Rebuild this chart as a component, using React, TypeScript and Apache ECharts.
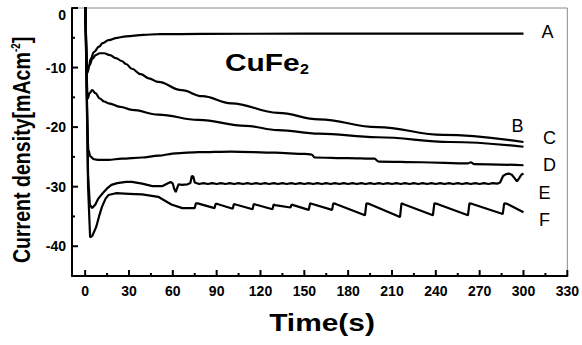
import React, { useEffect, useRef } from 'react';
import * as echarts from 'echarts';

const xMin = -9;
const xMax = 330;
const yMin = -45;
const yMax = 0;
const xMajorTicks = [0, 30, 60, 90, 120, 150, 180, 210, 240, 270, 300, 330];
const xMinorTicks = [15, 45, 75, 105, 135, 165, 195, 225, 255, 285, 315];
const yMajorTicks = [0, -10, -20, -30, -40];
const yMinorTicks = [-5, -15, -25, -35];

const seriesNames = ['A', 'B', 'C', 'D', 'E', 'F'];

const curveA: number[][] = [[0, 3], [1.4, -10.7], [2.5, -9.8], [3.9, -8.5], [6, -7.4], [9.5, -6.5], [12, -5.9], [16, -5.4], [22, -5.0], [28, -4.75], [40, -4.5], [50, -4.4], [80, -4.35], [150, -4.3], [300, -4.3]];
const curveB: number[][] = [[0, 3], [1.5, -10.9], [3, -9.6], [5, -8.5], [7.3, -7.9], [10, -7.6], [13, -7.6], [17, -7.9], [21, -8.4], [25, -8.9], [28, -9.4], [32, -10.2], [38, -11.1], [43.5, -11.8], [50, -12.4], [66, -13.8], [80, -14.8], [100, -16], [132, -17.6], [160, -18.7], [200, -20], [245, -21.3], [300, -22.5]];
const curveC: number[][] = [[0, 3], [1.8, -15.2], [3, -14.3], [4.8, -13.8], [7, -14.3], [10, -15.2], [13, -15.7], [16, -16], [24, -16.6], [32, -17.1], [50, -17.9], [77.5, -18.8], [110, -19.8], [132, -20.5], [160, -21.1], [200, -21.7], [250, -22.5], [300, -23.3]];
const curveD: number[][] = [[0, 3], [2.2, -23.8], [3.5, -24.9], [6, -25.4], [9.5, -25.5], [16, -25.5], [25, -25.3], [39, -25.1], [50, -24.8], [62, -24.4], [77.5, -24.2], [100, -24.1], [130, -24.3], [150, -24.5], [155, -24.6], [157, -25.1], [180, -25.2], [198, -25.3], [201, -25.8], [230, -25.9], [262, -26.1], [264, -25.9], [266, -26.2], [300, -26.4]];
const curveE: number[][] = [[0, 3], [2, -28], [3.2, -33], [4.8, -33.6], [7, -33], [9, -32], [12, -31.1], [15, -30.3], [18, -29.7], [22, -29.4], [28, -29.2], [32, -29.2], [39, -29.5], [46, -29.9], [53, -29.9], [56, -29.5], [58.5, -29.2], [60, -29.5], [61, -30.4], [62, -30.9], [63, -30.2], [64, -29.6], [66, -29.7], [70, -29.6], [72, -29.4], [73, -28.2], [74, -28.3], [75, -29.3],
  [78, -29.55], [81, -29.4], [84, -29.55], [87, -29.4], [90, -29.55], [93, -29.4], [96, -29.55], [99, -29.4], [102, -29.55], [105, -29.4], [108, -29.55], [111, -29.4], [114, -29.55], [117, -29.4], [120, -29.55], [123, -29.4], [126, -29.55], [129, -29.4], [132, -29.55], [135, -29.4], [138, -29.55], [141, -29.4], [144, -29.55], [147, -29.4], [150, -29.55], [153, -29.4], [156, -29.55], [159, -29.4], [162, -29.55], [165, -29.4], [168, -29.55], [171, -29.4], [174, -29.55], [177, -29.4], [180, -29.55], [183, -29.4], [186, -29.55], [189, -29.4], [192, -29.55], [195, -29.4], [198, -29.55], [201, -29.4], [204, -29.55], [207, -29.4], [210, -29.55], [213, -29.4], [216, -29.55], [219, -29.4], [222, -29.55], [225, -29.4], [228, -29.55], [231, -29.4], [234, -29.55], [237, -29.4], [240, -29.55], [243, -29.4], [246, -29.55], [249, -29.4], [252, -29.55], [255, -29.4], [258, -29.55], [261, -29.4], [264, -29.55], [267, -29.4], [270, -29.55], [273, -29.4], [276, -29.55], [279, -29.4], [282, -29.5],
  [284, -29.3], [286, -28.2], [288, -27.9], [290, -27.8], [292, -28.0], [294, -28.6], [295.5, -29.1], [297, -28.6], [298.5, -28.0], [300, -27.8]];
const curveF: number[][] = [[0, 3], [2, -30], [3.4, -38.5], [5, -38.2], [7.5, -36.8], [9.5, -35], [11.5, -33.4], [14, -32], [16, -31.4], [21, -31.1], [30, -31.2], [39, -31.3], [50, -31.7], [59, -33.0], [66.5, -33.6], [75, -33.6], [75.8, -32.8], [77, -32.8], [88.5, -33.6], [89.3, -32.9], [90.5, -32.9], [101, -33.7], [101.8, -32.9], [103, -33.0], [114.6, -33.8], [115.4, -32.9], [116.5, -33.0], [128.2, -33.8], [129, -33.0], [130, -33.1], [140.5, -33.5], [141.3, -33.0], [142.5, -33.1], [153, -33.9], [154, -32.8], [155.5, -32.9], [169, -33.9], [169.8, -32.8], [171.5, -32.9], [191.5, -34.8], [192.5, -32.8], [194.5, -32.9], [215.5, -35.1], [216.5, -32.8], [218.5, -33.0], [238, -34.8], [239, -32.8], [241, -32.9], [262, -34.8], [263, -32.8], [265, -32.9], [285.8, -34.6], [286.8, -32.8], [289, -32.9], [300, -34.3]];

const curves = [curveA, curveB, curveC, curveD, curveE, curveF];
const smoothing = [0.4, 0.4, 0.4, 0.3, 0, 0];
const labelOffsets = [[24, -2], [-6, -16], [26, -9], [26, 0], [21, 19], [21, 8]];

const FONT = '"Liberation Sans", Arial, Helvetica, sans-serif';

export default function App() {
  const ref = useRef<HTMLDivElement>(null);
  useEffect(() => {
    if (!ref.current) return;
    const chart = echarts.init(ref.current, undefined, { renderer: 'svg' });
    const tickLabel = { fontSize: 14, fontWeight: 'bold', color: '#000', fontFamily: FONT };
    const option: any = {
      animation: false,
      backgroundColor: '#fff',
      grid: { left: 72, right: 12, top: 8, bottom: 69, show: true, borderColor: '#8a8a8a', borderWidth: 1, backgroundColor: 'transparent' },
      xAxis: {
        type: 'value', min: xMin, max: xMax,
        axisLine: { show: true, onZero: false, lineStyle: { color: '#000', width: 2 } },
        axisTick: { show: false },
        axisLabel: { ...tickLabel, margin: 8, customValues: xMajorTicks },
        splitLine: { show: false },
      },
      yAxis: {
        type: 'value', min: yMin, max: yMax,
        axisLine: { show: true, onZero: false, lineStyle: { color: '#000', width: 2 } },
        axisTick: { show: false },
        axisLabel: {
          ...tickLabel, margin: 6, customValues: yMajorTicks,
          formatter: (v: number) => (v === 0 ? '{z|0}' : String(v)),
          rich: { z: { fontSize: 14, fontWeight: 'bold', color: '#000', fontFamily: FONT, padding: [14, 0, 0, 0] } },
        },
        splitLine: { show: false },
      },
      series: curves.map((c, i) => ({
        type: 'line',
        name: seriesNames[i],
        data: c,
        showSymbol: false,
        symbol: 'none',
        smooth: smoothing[i],
        smoothMonotone: 'x',
        clip: true,
        lineStyle: { color: '#000', width: 2.2 },
        markPoint: {
          silent: true,
          symbol: 'circle',
          symbolSize: 1,
          itemStyle: { color: 'rgba(0,0,0,0)' },
          label: {
            show: true, position: 'inside', formatter: seriesNames[i], offset: labelOffsets[i],
            fontSize: 18, color: '#000', fontFamily: FONT, fontWeight: 'normal',
          },
          data: [{ name: seriesNames[i], coord: c[c.length - 1] }],
        },
      })),
    };
    chart.setOption(option);

    const tickRects: any[] = [];
    const addX = (vals: number[], len: number) => vals.forEach((v) => {
      const p = chart.convertToPixel({ gridIndex: 0 } as any, [v, yMin]) as number[];
      tickRects.push({ type: 'rect', z: 100, silent: true, shape: { x: p[0] - 1, y: p[1] - len, width: 2, height: len }, style: { fill: '#000' } });
    });
    const addY = (vals: number[], len: number) => vals.forEach((v) => {
      const p = chart.convertToPixel({ gridIndex: 0 } as any, [xMin, v]) as number[];
      tickRects.push({ type: 'rect', z: 100, silent: true, shape: { x: p[0], y: p[1] - 1, width: len, height: 2 }, style: { fill: '#000' } });
    });
    addX(xMajorTicks, 6);
    addX(xMinorTicks, 3);
    addY(yMajorTicks, 6);
    addY(yMinorTicks, 3);

    chart.setOption({
      graphic: [
        ...tickRects,
        {
          type: 'text', x: 225, y: 63.5, scaleX: 1.3,
          style: { text: 'CuFe', fontSize: 23, fontWeight: 'bold', fontFamily: FONT, align: 'left', verticalAlign: 'middle', fill: '#000' },
        },
        {
          type: 'text', x: 300, y: 68.5, scaleX: 1.15,
          style: { text: '2', fontSize: 14, fontWeight: 'bold', fontFamily: FONT, align: 'left', verticalAlign: 'middle', fill: '#000' },
        },
        {
          type: 'text', x: 322, y: 323.5, scaleX: 1.3,
          style: { text: 'Time(s)', fontSize: 23, fontWeight: 'bold', fontFamily: FONT, align: 'center', verticalAlign: 'middle', fill: '#000' },
        },
        {
          type: 'text', x: 21.5, y: 150, rotation: Math.PI / 2, scaleX: 0.816,
          style: {
            text: '{a|Current density[mAcm}{s|-2}{a|]}', align: 'center', verticalAlign: 'middle', fill: '#000',
            rich: {
              a: { fontSize: 24, fontWeight: 'bold', fontFamily: FONT, lineHeight: 24, verticalAlign: 'bottom', fill: '#000' },
              s: { fontSize: 12, fontWeight: 'bold', fontFamily: FONT, lineHeight: 12, verticalAlign: 'top', padding: [0, 0, 21, 0], fill: '#000' },
            },
          },
        },
      ],
    });
    return () => chart.dispose();
  }, []);
  return <div ref={ref} style={{ position: 'fixed', left: 0, top: 0, width: 582, height: 345, background: '#fff' }} />;
}
